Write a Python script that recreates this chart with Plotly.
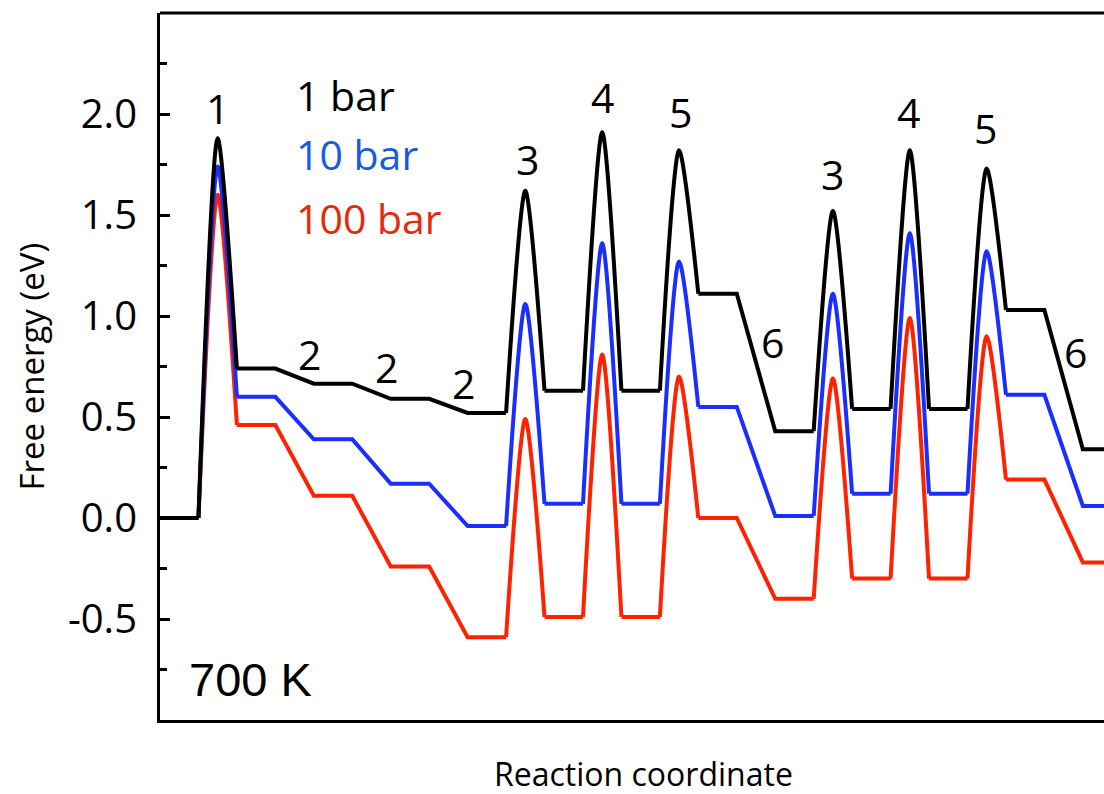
import plotly.graph_objects as go

# Reaction coordinate of every node; half-integer nodes are transition states
coord = [0, 1, 1.5, 2, 3, 4, 5, 6, 7, 8, 9, 9.5, 10, 11, 11.5, 12, 13, 13.5,
         14, 15, 16, 17, 17.5, 18, 19, 19.5, 20, 21, 21.5, 22, 23, 24, 25]

# Free energy (eV) at each node, 700 K
g_1bar = [0.00, 0.00, 1.88, 0.74, 0.74, 0.665, 0.665, 0.59, 0.59, 0.52, 0.52, 1.62,
          0.63, 0.63, 1.91, 0.63, 0.63, 1.82, 1.11, 1.11, 0.43, 0.43, 1.52, 0.54,
          0.54, 1.82, 0.54, 0.54, 1.73, 1.03, 1.03, 0.34, 0.34]
g_10bar = [0.00, 0.00, 1.74, 0.60, 0.60, 0.39, 0.39, 0.17, 0.17, -0.04, -0.04, 1.06,
           0.07, 0.07, 1.36, 0.07, 0.07, 1.27, 0.55, 0.55, 0.01, 0.01, 1.11, 0.12,
           0.12, 1.41, 0.12, 0.12, 1.32, 0.61, 0.61, 0.06, 0.06]
g_100bar = [0.00, 0.00, 1.60, 0.46, 0.46, 0.11, 0.11, -0.24, -0.24, -0.59, -0.59, 0.49,
            -0.49, -0.49, 0.81, -0.49, -0.49, 0.70, 0.00, 0.00, -0.40, -0.40, 0.69, -0.30,
            -0.30, 0.99, -0.30, -0.30, 0.90, 0.19, 0.19, -0.22, -0.22]

series_names = ["1 bar", "10 bar", "100 bar"]
line_colors = ["#000000", "#1a2eff", "#ff2200"]
text_colors = ["#000000", "#165ddc", "#e42a0c"]

# Elementary-step labels
step_text = ["1", "2", "2", "2", "3", "4", "5", "6", "3", "4", "5", "6"]
step_x = [1.5, 3.9, 5.9, 7.9, 9.56, 11.51, 13.54, 15.93, 17.49, 19.47, 21.47, 23.8]
step_y = [2.03, 0.81, 0.75, 0.67, 1.775, 2.085, 2.01, 0.87, 1.705, 2.01, 1.93, 0.82]

y_tickvals = [-0.5, 0.0, 0.5, 1.0, 1.5, 2.0]
y_ticktext = ["-0.5", "0.0", "0.5", "1.0", "1.5", "2.0"]
y_minorvals = [-0.75, -0.25, 0.25, 0.75, 1.25, 1.75, 2.25]

TICK_FONT = "Open Sans"


def split_profile(x, y):
    """Plateaus/slopes as straight segments, barriers as smoothed arcs."""
    lin_x, lin_y, ts_x, ts_y = [], [], [], []
    for i, (xi, yi) in enumerate(zip(x, y)):
        if xi % 1 == 0.5:
            lin_x.append(None)
            lin_y.append(None)
            ts_x += [x[i - 1], xi, x[i + 1], None]
            ts_y += [y[i - 1], yi, y[i + 1], None]
        else:
            lin_x.append(xi)
            lin_y.append(yi)
    return lin_x, lin_y, ts_x, ts_y


fig = go.Figure()
profiles = [g_1bar, g_10bar, g_100bar]
# draw 100 bar first so the 1 bar curve sits on top
for name, g, col in reversed(list(zip(series_names, profiles, line_colors))):
    lx, ly, tx, ty = split_profile(coord, g)
    fig.add_trace(go.Scatter(x=lx, y=ly, mode="lines", name=name, showlegend=False,
                             line=dict(color=col, width=4), connectgaps=False))
    fig.add_trace(go.Scatter(x=tx, y=ty, mode="lines", name=name, showlegend=False,
                             line=dict(color=col, width=4, shape="spline", smoothing=0.75),
                             connectgaps=False))

annotations = []
for t, x, y in zip(step_text, step_x, step_y):
    annotations.append(dict(x=x, y=y, xref="x", yref="y", text=t, showarrow=False,
                            font=dict(family=TICK_FONT, size=41, color="black"),
                            xanchor="center", yanchor="middle"))

legend_y = [2.095, 1.80, 1.487]
for name, col, y in zip(series_names, text_colors, legend_y):
    annotations.append(dict(x=3.48, y=y, xref="x", yref="y", text=name, showarrow=False,
                            font=dict(family=TICK_FONT, size=41, color=col),
                            xanchor="left", yanchor="middle"))

annotations.append(dict(x=2.36, y=-0.80, xref="x", yref="y", text="700 K", showarrow=False,
                        font=dict(family="Liberation Sans", size=47, color="black"),
                        xanchor="center", yanchor="middle"))

annotations.append(dict(x=0.5127, y=-0.076, xref="paper", yref="paper",
                        text="Reaction coordinate", showarrow=False,
                        font=dict(family=TICK_FONT, size=32, color="black"),
                        xanchor="center", yanchor="middle"))
annotations.append(dict(x=-0.1356, y=0.5, xref="paper", yref="paper",
                        text="Free energy (eV)", showarrow=False, textangle=-90,
                        font=dict(family=TICK_FONT, size=33, color="black"),
                        xanchor="center", yanchor="middle"))

fig.update_layout(
    width=1104, height=794,
    margin=dict(l=160, r=0, t=13, b=74),
    paper_bgcolor="white", plot_bgcolor="white",
    showlegend=False,
    annotations=annotations,
    shapes=[dict(type="line", xref="paper", yref="paper", x0=0, x1=1, y0=1, y1=1,
                 line=dict(color="black", width=3))],
)
fig.update_xaxes(range=[0, 24.55], showline=True, linewidth=3, linecolor="black",
                 showgrid=False, zeroline=False, showticklabels=False, ticks="")
fig.update_yaxes(range=[-1.0, 2.5], showline=True, linewidth=3, linecolor="black",
                 showgrid=False, zeroline=False,
                 tickmode="array", tickvals=y_tickvals, ticktext=y_ticktext,
                 ticks="inside", ticklen=10, tickwidth=3, tickcolor="black",
                 ticklabelstandoff=12,
                 tickfont=dict(family=TICK_FONT, size=40, color="black"),
                 minor=dict(tickmode="array", tickvals=y_minorvals, ticks="inside",
                            ticklen=7, tickwidth=3, tickcolor="black"))

fig.write_html("out.html")
